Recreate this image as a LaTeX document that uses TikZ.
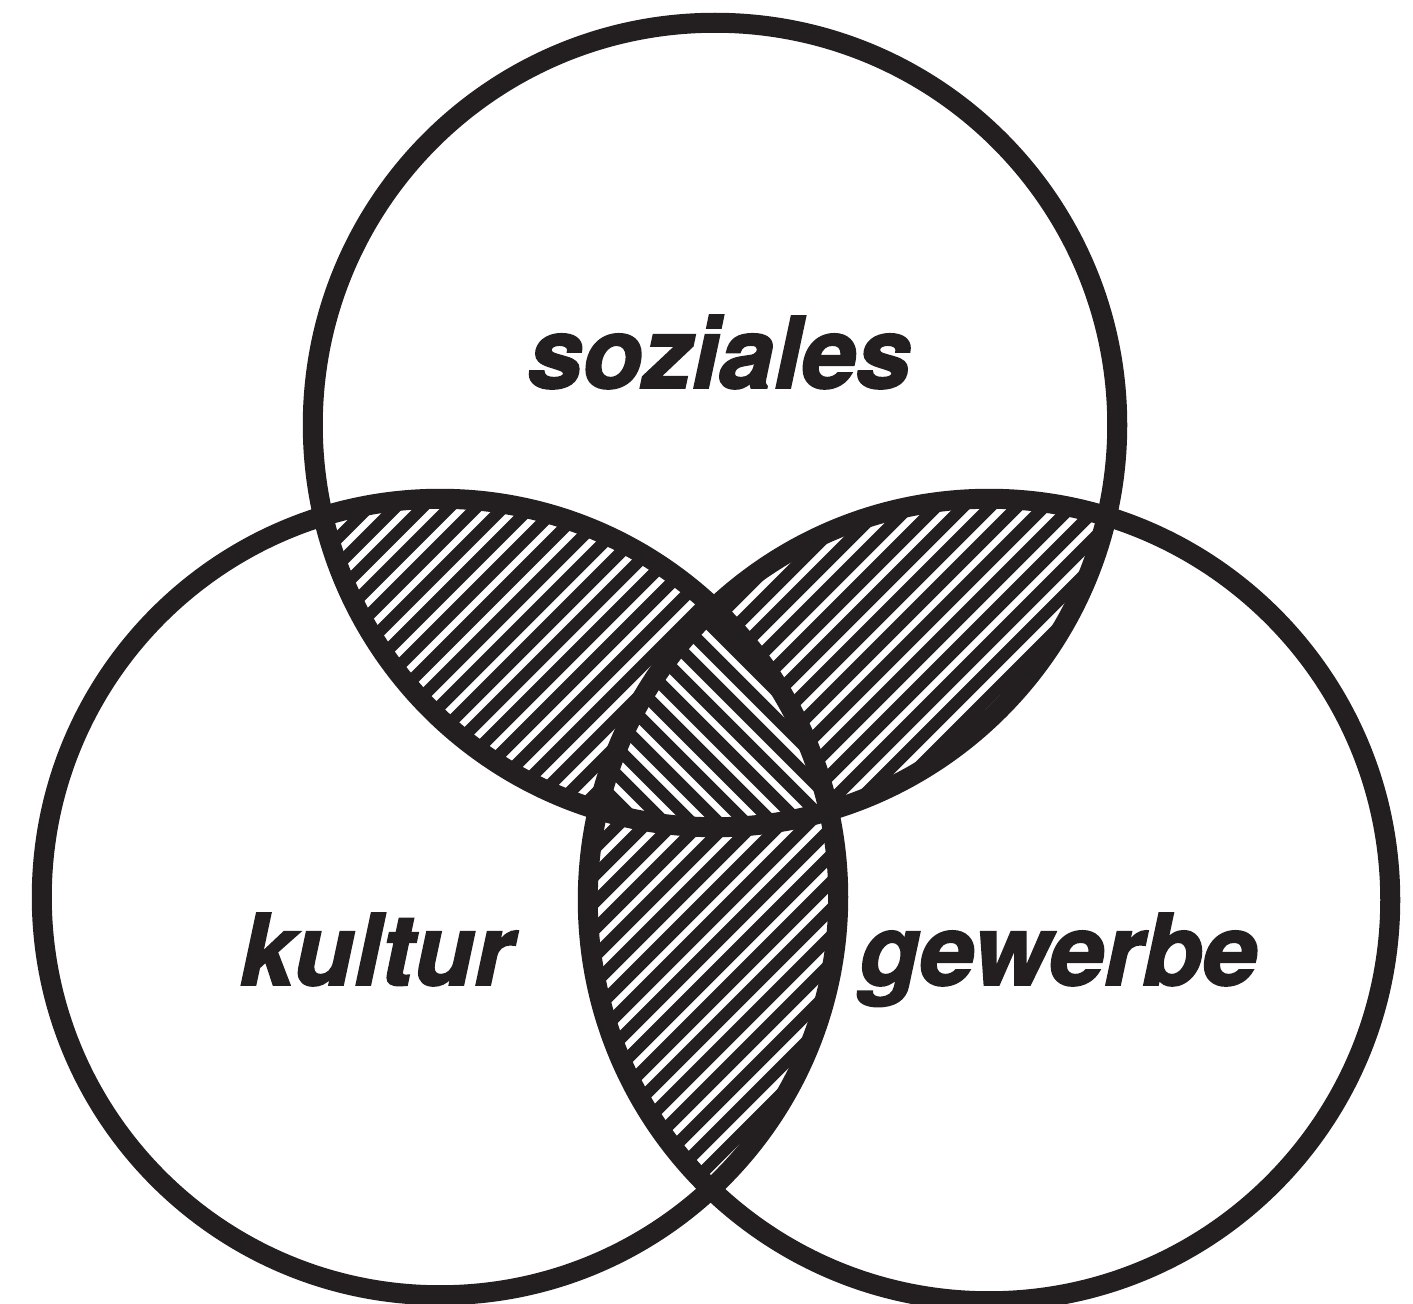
\documentclass[tikz,border=0pt]{standalone}
\usepackage{fontspec}
\setmainfont{TeX Gyre Heros}
\newfontfamily\heavyfont[FakeBold=2]{TeX Gyre Heros}
\definecolor{ink}{HTML}{231F20}
\begin{document}
\begin{tikzpicture}[x=0.01cm,y=-0.01cm,
  ring/.style={draw=ink,line width=0.2cm},
  hatch/.style={draw=ink,line width=0.12cm},
  vlabel/.style={font=\heavyfont\fontsize{28}{28}\selectfont\bfseries\itshape,text=ink,anchor=base,inner sep=0pt}]
\useasboundingbox (0,0) rectangle (1413,1304);
% pairwise intersections, hatched "/"
\begin{scope}
  \clip (715,425) circle[radius=4.02cm];
  \clip (440,897) circle[radius=3.98cm];
  \foreach \a in {-1400,-1373,...,1430} \draw[hatch] (\a,1304) -- ++(1304,-1304);
\end{scope}
\begin{scope}
  \clip (715,425) circle[radius=4.02cm];
  \clip (989,900) circle[radius=4.01cm];
  \foreach \a in {-1400,-1373,...,1430} \draw[hatch] (\a,1304) -- ++(1304,-1304);
\end{scope}
\begin{scope}
  \clip (440,897) circle[radius=3.98cm];
  \clip (989,900) circle[radius=4.01cm];
  \foreach \a in {-1400,-1373,...,1430} \draw[hatch] (\a,1304) -- ++(1304,-1304);
\end{scope}
% centre region, hatched "\"
\begin{scope}
  \clip (715,425) circle[radius=4.02cm];
  \clip (440,897) circle[radius=3.98cm];
  \clip (989,900) circle[radius=4.01cm];
  \fill[white] (0,0) rectangle (1413,1304);
  \foreach \a in {-1400,-1373,...,1430} \draw[hatch] (\a,0) -- ++(1304,1304);
\end{scope}
% circles
\draw[ring] (715,425) circle[radius=4.02cm];
\draw[ring] (440,897) circle[radius=3.98cm];
\draw[ring] (989,900) circle[radius=4.01cm];
% labels
\node[vlabel] (soz) at (719,388) {soziales};
\node[vlabel] (kul) at (376,985) {kultur};
\node[vlabel] (gew) at (1058,985) {gewerbe};
\end{tikzpicture}
\end{document}
